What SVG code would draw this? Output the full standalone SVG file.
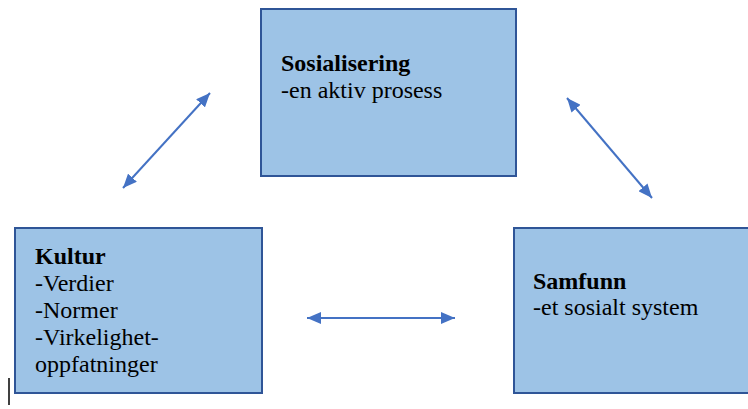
<svg xmlns="http://www.w3.org/2000/svg" width="748" height="409" viewBox="0 0 748 409">
  <style>
    .box { fill: #9DC3E6; stroke: #2F5597; stroke-width: 2; }
    .t { font-family: 'Liberation Serif', 'Times New Roman', Times, 'DejaVu Serif', serif; font-size: 24px; fill: #000; }
    .b { font-weight: bold; }
    .link { stroke: #4472C4; stroke-width: 2; fill: none; marker-start: url(#tip); marker-end: url(#tip); }
  </style>
  <defs>
    <marker id="tip" viewBox="0 0 14 12" refX="14" refY="6" markerWidth="14" markerHeight="12" markerUnits="userSpaceOnUse" orient="auto-start-reverse">
      <path d="M0,0 L14,6 L0,12 z" fill="#4472C4"/>
    </marker>
  </defs>
  <rect width="748" height="409" fill="#fff"/>

  <g id="sosialisering">
    <rect class="box" x="261" y="9" width="255" height="167"/>
    <text class="t b" x="281" y="71">Sosialisering</text>
    <text class="t" x="281" y="98">-en aktiv prosess</text>
  </g>

  <g id="kultur">
    <rect class="box" x="15" y="228" width="247" height="165"/>
    <text class="t b" x="35" y="264">Kultur</text>
    <text class="t" x="35" y="291">-Verdier</text>
    <text class="t" x="35" y="318">-Normer</text>
    <text class="t" x="35" y="345">-Virkelighet-</text>
    <text class="t" x="35" y="372">oppfatninger</text>
  </g>

  <g id="samfunn">
    <rect class="box" x="514" y="228" width="240" height="165"/>
    <text class="t b" x="533" y="289">Samfunn</text>
    <text class="t" x="533" y="315">-et sosialt system</text>
  </g>

  <g id="connectors">
    <line class="link" x1="123" y1="188" x2="210" y2="93"/>
    <line class="link" x1="567" y1="98" x2="652" y2="198"/>
    <line class="link" x1="307" y1="318" x2="455" y2="318"/>
  </g>

  <!-- text caret -->
  <line x1="9" y1="378" x2="9" y2="405" stroke="#000" stroke-width="1.5"/>
</svg>
